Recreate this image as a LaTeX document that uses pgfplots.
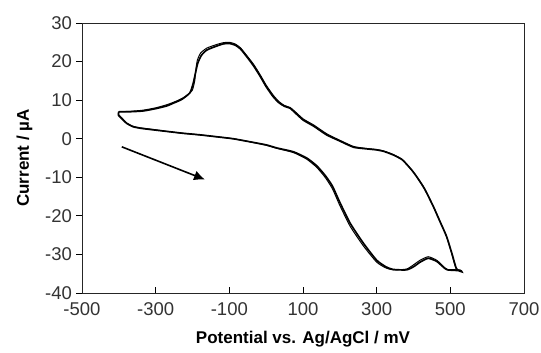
\documentclass[border=0pt]{standalone}
\usepackage{fontspec}
\setmainfont{Liberation Sans}
\usepackage{pgfplots}
\pgfplotsset{compat=1.18}
\usetikzlibrary{arrows.meta}
\begin{document}
\begin{tikzpicture}
\begin{axis}[
 at={(0,0)}, anchor=south west,
 scale only axis, width=442pt, height=270pt,
 xmin=-500, xmax=700, ymin=-40, ymax=30,
 xtick={-500,-300,...,700}, ytick={-40,-30,...,30},
 xtick pos=bottom, ytick pos=left,
 xtick align=inside, ytick align=outside,
 major tick length=5.5pt,
 axis line style={line width=0.9pt, black!85},
 tick style={line width=0.8pt, black},
 /pgf/number format/assume math mode=true,
 tick label style={font=\fontsize{18.5}{21}\selectfont, text=black!80},
 xticklabel style={yshift=-6pt},
 yticklabel style={xshift=-1pt},
 label style={font=\bfseries\fontsize{17}{20}\selectfont},
 xlabel={Potential vs. Ag/AgCl / mV},
 xlabel style={yshift=-9pt},
 ylabel={Current / µA},
 ylabel style={yshift=6pt},
 clip=false,
]
% cycle 1
\addplot[black, line width=1.7pt, smooth, tension=0.35] coordinates {
(-400,7.0) (-401,6.1) (-390,5.0) (-379,4.0) (-361,3.1) (-340,2.7) (-315,2.4) (-270,1.9)
(-225,1.4) (-180,1.0) (-134,0.5) (-90,0.0) (-44,-0.8) (0,-1.6) (29,-2.4) (74,-3.4)
(110,-5.0) (137,-7.0) (160,-9.5) (180,-12.3) (200,-16.5) (228,-21.9) (264,-27.1)
(300,-31.5) (325,-33.2) (345,-33.9) (381,-34.0) (400,-33.2) (418,-32.0) (440,-31.0)
(463,-31.8) (480,-33.2) (492,-34.0) (526,-34.2) (531,-34.5)
(517,-33.8) (505,-30.0) (490,-25.4) (472,-21.5) (454,-17.6) (430,-13.0) (409,-9.9)
(395,-8.1) (370,-5.5) (345,-4.2) (320,-3.3) (300,-2.9) (270,-2.6) (237,-2.2) (200,-0.6)
(164,1.0) (130,3.2) (101,4.8) (80,6.6) (65,7.9) (50,8.4) (35,9.3) (19,10.9) (0,13.5)
(-17,16.3) (-35,19.0) (-53,21.3) (-70,23.3) (-85,24.3) (-100,24.7) (-116,24.6)
(-135,24.0) (-161,23.0) (-176,21.6) (-186,19.5) (-192,17.0) (-198,14.4) (-207,11.9)
(-229,10.2) (-250,9.3) (-270,8.5) (-300,7.8) (-334,7.2) (-370,7.0) (-400,7.0)
};
% cycle 2 (slightly offset)
\addplot[black, line width=1.0pt, smooth, tension=0.35] coordinates {
(-400,7.0) (-401,6.3) (-390,5.2) (-379,4.1) (-361,3.2) (-340,2.8) (-315,2.5) (-270,1.9)
(-225,1.4) (-180,1.0) (-134,0.5) (-90,0.0) (-44,-0.8) (0,-1.7) (29,-2.5) (74,-3.6)
(110,-5.3) (137,-7.4) (160,-10.0) (180,-13.0) (200,-17.3) (228,-22.7) (264,-27.8)
(300,-32.0) (325,-33.5) (345,-34.0) (381,-33.8) (400,-32.7) (418,-31.5) (440,-30.6)
(463,-31.5) (480,-33.0) (492,-33.9) (526,-34.0) (531,-34.4)
(515,-33.5) (503,-29.5) (488,-24.9) (470,-21.0) (452,-17.2) (428,-12.6) (407,-9.6)
(393,-7.9) (370,-5.4) (345,-4.1) (320,-3.2) (300,-2.8) (270,-2.5) (237,-2.0) (200,-0.4)
(164,1.3) (130,3.5) (101,5.1) (80,6.9) (65,8.1) (50,8.6) (35,9.6) (19,11.3) (0,13.9)
(-17,16.7) (-35,19.4) (-53,21.6) (-70,23.6) (-85,24.6) (-100,25.0) (-116,24.9)
(-135,24.4) (-161,23.5) (-178,22.2) (-187,20.3) (-191,17.8) (-194,15.0) (-201,12.5)
(-222,10.8) (-245,9.7) (-270,8.8) (-300,8.0) (-334,7.4) (-370,7.1) (-400,7.0)
};
% scan direction arrow
\addplot[black, line width=1.6pt, -{Latex[length=11pt,width=10pt]}] coordinates {(-392,-2.1) (-166,-10.6)};
\end{axis}
\pgfresetboundingbox
\path (-82pt,-60pt) rectangle (459pt,293pt);
\end{tikzpicture}
\end{document}
